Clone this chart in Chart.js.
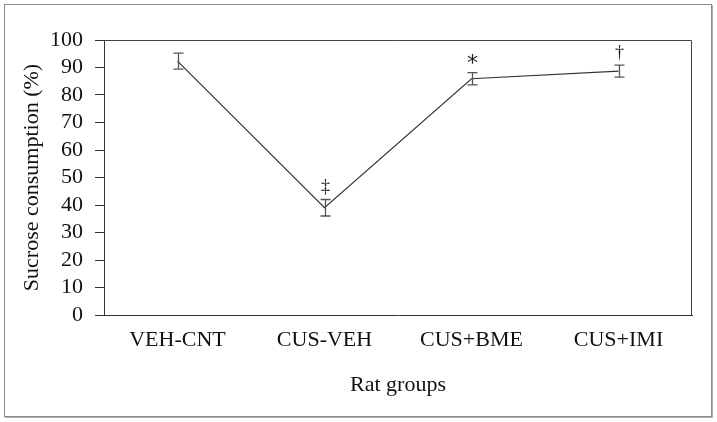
<!DOCTYPE html>
<html>
<head>
<meta charset="utf-8">
<script src="https://cdn.jsdelivr.net/npm/chart.js@4/dist/chart.umd.min.js"></script>
<style>
  html, body { margin: 0; padding: 0; background: #fff; }
  #wrap { width: 717px; height: 422px; }
</style>
</head>
<body>
<div id="wrap"><canvas id="chart" width="717" height="422"></canvas></div>
<script>
    // values
    var groups = ['VEH-CNT', 'CUS-VEH', 'CUS+BME', 'CUS+IMI'];
    var meanValues = [92.3, 39.0, 85.9, 88.7];
    var semValues = [2.9, 3.0, 2.25, 2.2];
    var markers = ['', '\u2021', '*', '\u2020'];
    var yTicks = [0, 10, 20, 30, 40, 50, 60, 70, 80, 90, 100];

    var serif = '"Liberation Serif", "Times New Roman", serif';

    // outer frame + plot box
    var framePlugin = {
        id: 'frame',
        beforeDraw: function (chart) {
            var ctx = chart.ctx;
            ctx.save();
            ctx.fillStyle = '#fff';
            ctx.fillRect(0, 0, chart.width, chart.height);
            ctx.strokeStyle = '#8c8c8c';
            ctx.lineWidth = 1;
            ctx.strokeRect(4.5, 4.5, 707, 412);
            ctx.strokeStyle = '#b0b0b0';
            ctx.beginPath();
            ctx.moveTo(712.5, 5); ctx.lineTo(712.5, 417.5); ctx.lineTo(5, 417.5);
            ctx.stroke();
            ctx.restore();
        },
        afterDraw: function (chart) {
            var a = chart.chartArea, ctx = chart.ctx;
            ctx.save();
            ctx.strokeStyle = '#444';
            ctx.lineWidth = 1;
            ctx.beginPath();
            ctx.moveTo(a.left, a.top + 0.5);
            ctx.lineTo(a.right - 0.5, a.top + 0.5);
            ctx.lineTo(a.right - 0.5, a.bottom);
            ctx.stroke();
            ctx.restore();
        }
    };

    // error bars and significance marks
    var errorPlugin = {
        id: 'errorBars',
        afterDatasetsDraw: function (chart) {
            var ctx = chart.ctx;
            var x = chart.scales.x, y = chart.scales.y;
            ctx.save();
            ctx.strokeStyle = '#555';
            ctx.lineWidth = 1.3;
            for (var i = 0; i < groups.length; i++) {
                var px = Math.round(x.getPixelForValue(i)) + 0.5;
                var top = y.getPixelForValue(meanValues[i] + semValues[i]);
                var bot = y.getPixelForValue(meanValues[i] - semValues[i]);
                ctx.beginPath();
                ctx.moveTo(px, top); ctx.lineTo(px, bot);
                ctx.moveTo(px - 5, top); ctx.lineTo(px + 5, top);
                ctx.moveTo(px - 5, bot); ctx.lineTo(px + 5, bot);
                ctx.stroke();
                if (markers[i]) {
                    ctx.fillStyle = '#222';
                    ctx.textAlign = 'center';
                    ctx.textBaseline = 'middle';
                    ctx.font = markers[i] === '*' ? '22px "DejaVu Sans", sans-serif' : '18px ' + serif;
                    ctx.fillText(markers[i], px, top - (markers[i] === '*' ? 8 : 12));
                }
            }
            ctx.restore();
        }
    };

    var chart = new Chart(document.getElementById('chart'), {
        type: 'line',
        data: {
            labels: groups,
            datasets: [{
                data: meanValues,
                borderColor: '#333',
                borderWidth: 1.2,
                pointRadius: 0,
                tension: 0,
                fill: false
            }]
        },
        options: {
            responsive: false,
            animation: false,
            layout: { padding: { top: 40, right: 25, left: 0, bottom: 0 } },
            plugins: { legend: { display: false }, tooltip: { enabled: false } },
            scales: {
                x: {
                    offset: true,
                    grid: { display: false, drawTicks: false },
                    border: { color: '#333', width: 1 },
                    ticks: { color: '#111', font: { family: serif, size: 22 }, padding: 12, maxRotation: 0, autoSkip: false },
                    title: { display: true, text: 'Rat groups', color: '#111', font: { family: serif, size: 22 }, padding: { bottom: 24 } },
                    afterFit: function (s) { s.height = 107; }
                },
                y: {
                    min: 0,
                    max: 100,
                    afterBuildTicks: function (s) { s.ticks = yTicks.map(function (v) { return { value: v }; }); },
                    grid: { drawOnChartArea: false, tickLength: 9, color: '#333' },
                    border: { color: '#333', width: 1 },
                    ticks: { color: '#111', font: { family: serif, size: 22 }, padding: 12, autoSkip: false },
                    title: { display: true, text: 'Sucrose consumption (%)', color: '#111', font: { family: serif, size: 22 }, padding: { top: 19 } },
                    afterFit: function (s) { s.width = 104; }
                }
            }
        },
        plugins: [framePlugin, errorPlugin]
    });
</script>
</body>
</html>
